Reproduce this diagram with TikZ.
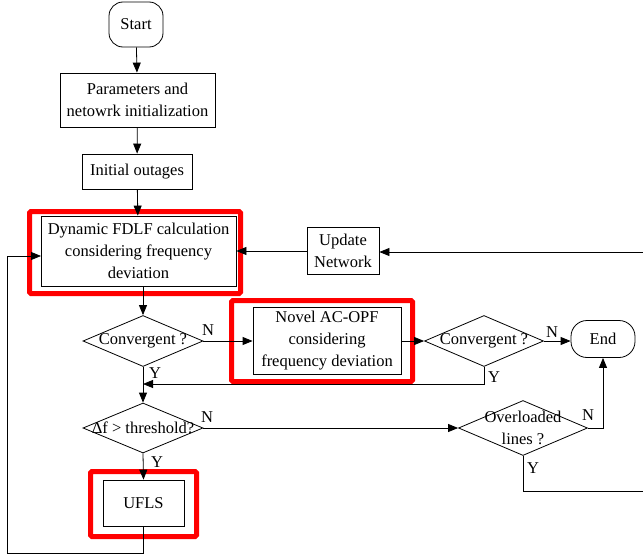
\documentclass[tikz,border=0pt]{standalone}
\usepackage{fontspec}
\setmainfont{Liberation Serif}
\usetikzlibrary{shapes.geometric,arrows.meta}
\tikzset{
  box/.style={draw,line width=0.8pt,align=center,inner sep=0pt},
  term/.style={box,rounded corners=14pt},
  decision/.style={diamond,draw,line width=0.8pt,inner sep=0pt},
  hilite/.style={draw=red,line width=5pt,rounded corners=1.5pt},
  flow/.style={line width=0.8pt,-{Triangle[length=10pt,width=8pt]}},
  link/.style={line width=0.8pt},
  tag/.style={inner sep=0pt}
}
\begin{document}
\begin{tikzpicture}[x=1pt,y=-1pt,font=\fontsize{16.5}{22}\selectfont]
\useasboundingbox (0,0) rectangle (643,554);
\node[term,minimum width=54pt,minimum height=45pt] (start) at (136,24.5) {Start};
\node[box,minimum width=155pt,minimum height=54pt] (param) at (137.5,100) {Parameters and\\netowrk initialization};
\node[box,minimum width=110pt,minimum height=35pt] (outage) at (137,171.5) {Initial outages};
\node[box,minimum width=195pt,minimum height=70pt] (fdlf) at (138.5,251) {Dynamic FDLF calculation\\considering frequency\\deviation};
\node[box,minimum width=72pt,minimum height=47pt] (update) at (343,251) {Update\\Network};
\node[decision,minimum width=120pt,minimum height=51pt] (conv1) at (143,341) {};
\node at (conv1) {Convergent ?};
\node[box,minimum width=148pt,minimum height=67pt] (novel) at (327,341) {Novel AC-OPF\\considering\\frequency deviation};
\node[decision,minimum width=119pt,minimum height=51pt] (conv2) at (484,341) {};
\node at (conv2) {Convergent ?};
\node[term,minimum width=64pt,minimum height=37pt,rounded corners=16pt] (end) at (603,339) {End};
\node[decision,minimum width=120pt,minimum height=50pt] (thresh) at (143,428) {};
\node at (thresh) {Δf > threshold?};
\node[decision,minimum width=129pt,minimum height=55pt] (over) at (523,428) {};
\node[align=center] at (over) {Overloaded\\lines ?};
\node[box,minimum width=81pt,minimum height=46pt] (ufls) at (143.5,503) {UFLS};
\draw[hilite] (29.5,211.5) rectangle (240.5,293.5);
\draw[hilite] (231.5,300.5) rectangle (412.5,381.5);
\draw[hilite] (90.5,471.5) rectangle (196.5,536.5);
\coordinate (edgeU) at (643,252);
\coordinate (edgeY) at (643,491.5);
\coordinate (join) at (143,384);
\coordinate (loop) at (7,553);
\coordinate (entry) at (41,256);
\draw[flow] (start) -- (param);
\draw[flow] (param) -- (outage);
\draw[flow] (outage) -- (fdlf);
\draw[flow] (fdlf.south -| conv1.north) -- (conv1.north);
\draw[flow] (conv1.east) -- (novel.west);
\draw[flow] (novel.east) -- (conv2.west);
\draw[flow] (conv2.east) -- (end.west |- conv2.east);
\draw[flow] (conv2.south) |- (join);
\draw[flow] (conv1.south) -- (thresh.north);
\draw[flow] (thresh.east) -- (over.west);
\draw[flow] (over.east) -| (end.south);
\draw[link] (over.south) |- (edgeY);
\draw[flow] (edgeU) -- (update.east |- edgeU);
\draw[flow] (update.west) -- (fdlf.east);
\draw[flow] (thresh.south) -- (ufls.north);
\draw[flow] (ufls.south) |- (loop) |- (entry);
\node[tag] (n1) at (208,330) {N};
\node[tag] (y1) at (155,373) {Y};
\node[tag] (n2) at (552,332) {N};
\node[tag] (y2) at (494,377) {Y};
\node[tag] (n3) at (207,417) {N};
\node[tag] (y3) at (157,462) {Y};
\node[tag] (n4) at (588,415) {N};
\node[tag] (y4) at (533,468) {Y};
\end{tikzpicture}
\end{document}
